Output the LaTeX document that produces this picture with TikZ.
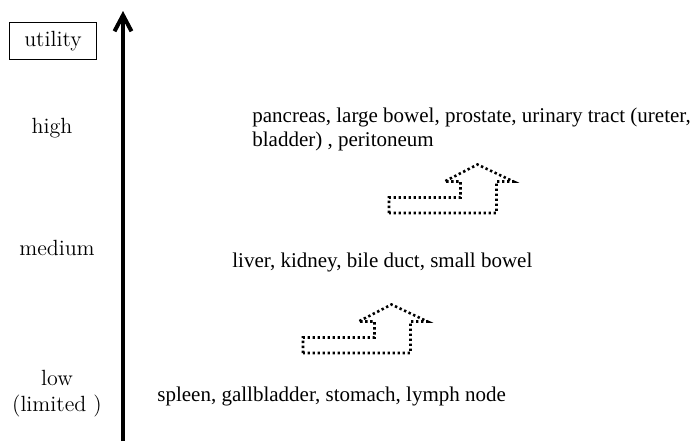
\documentclass[tikz,border=0pt]{standalone}
\usepackage{fontspec}
\newfontfamily\organfont{Liberation Serif}
\usetikzlibrary{arrows.meta}
\tikzset{
	levellabel/.style={font=\fontsize{11}{13}\selectfont, align=center, inner sep=0pt},
	organtext/.style={font=\organfont\fontsize{10.5}{12}\selectfont, align=left, inner sep=0pt},
	steparrow/.style={line width=1.3pt, dash pattern=on 1.2pt off 1.3pt},
}
\begin{document}
\begin{tikzpicture}[x=0.5pt, y=-0.5pt]
			\useasboundingbox (0,0) rectangle (692,441);
			\coordinate (axisfoot) at (123,441);
			\coordinate (axistop) at (123,11);
			\draw[line width=2pt, -{Straight Barb[length=8pt,width=8.5pt]}] (axisfoot) -- (axistop);
			\node[levellabel, draw, line width=0.75pt, minimum width=43.5pt, minimum height=18.5pt] (utility) at (53,41) {utility};
			\node[levellabel, anchor=base] (high) at (52,133) {high};
			\node[levellabel, anchor=base] (medium) at (57,255) {medium};
			\node[levellabel] (low) at (57,394) {low\\(limited )};
			\node[organtext, anchor=north west] (hightext) at (252,108) {pancreas, large bowel, prostate, urinary tract (ureter,\\bladder) , peritoneum};
			\node[organtext, anchor=base west] (medtext) at (232,267) {liver, kidney, bile duct, small bowel};
			\node[organtext, anchor=base west] (lowtext) at (157,401) {spleen, gallbladder, stomach, lymph node};
			\foreach \px/\py in {303/353, 389/213}
				\draw[steparrow, shift={(\px,\py)}] (0,0) -- (0,-15.5) -- (71.5,-15.5) -- (71.5,-31.5) -- (55.5,-31.5) -- (88.5,-48.5) -- (124.5,-31.5) -- (107.5,-31.5) -- (107.5,0) -- cycle;
		\end{tikzpicture}
\end{document}
